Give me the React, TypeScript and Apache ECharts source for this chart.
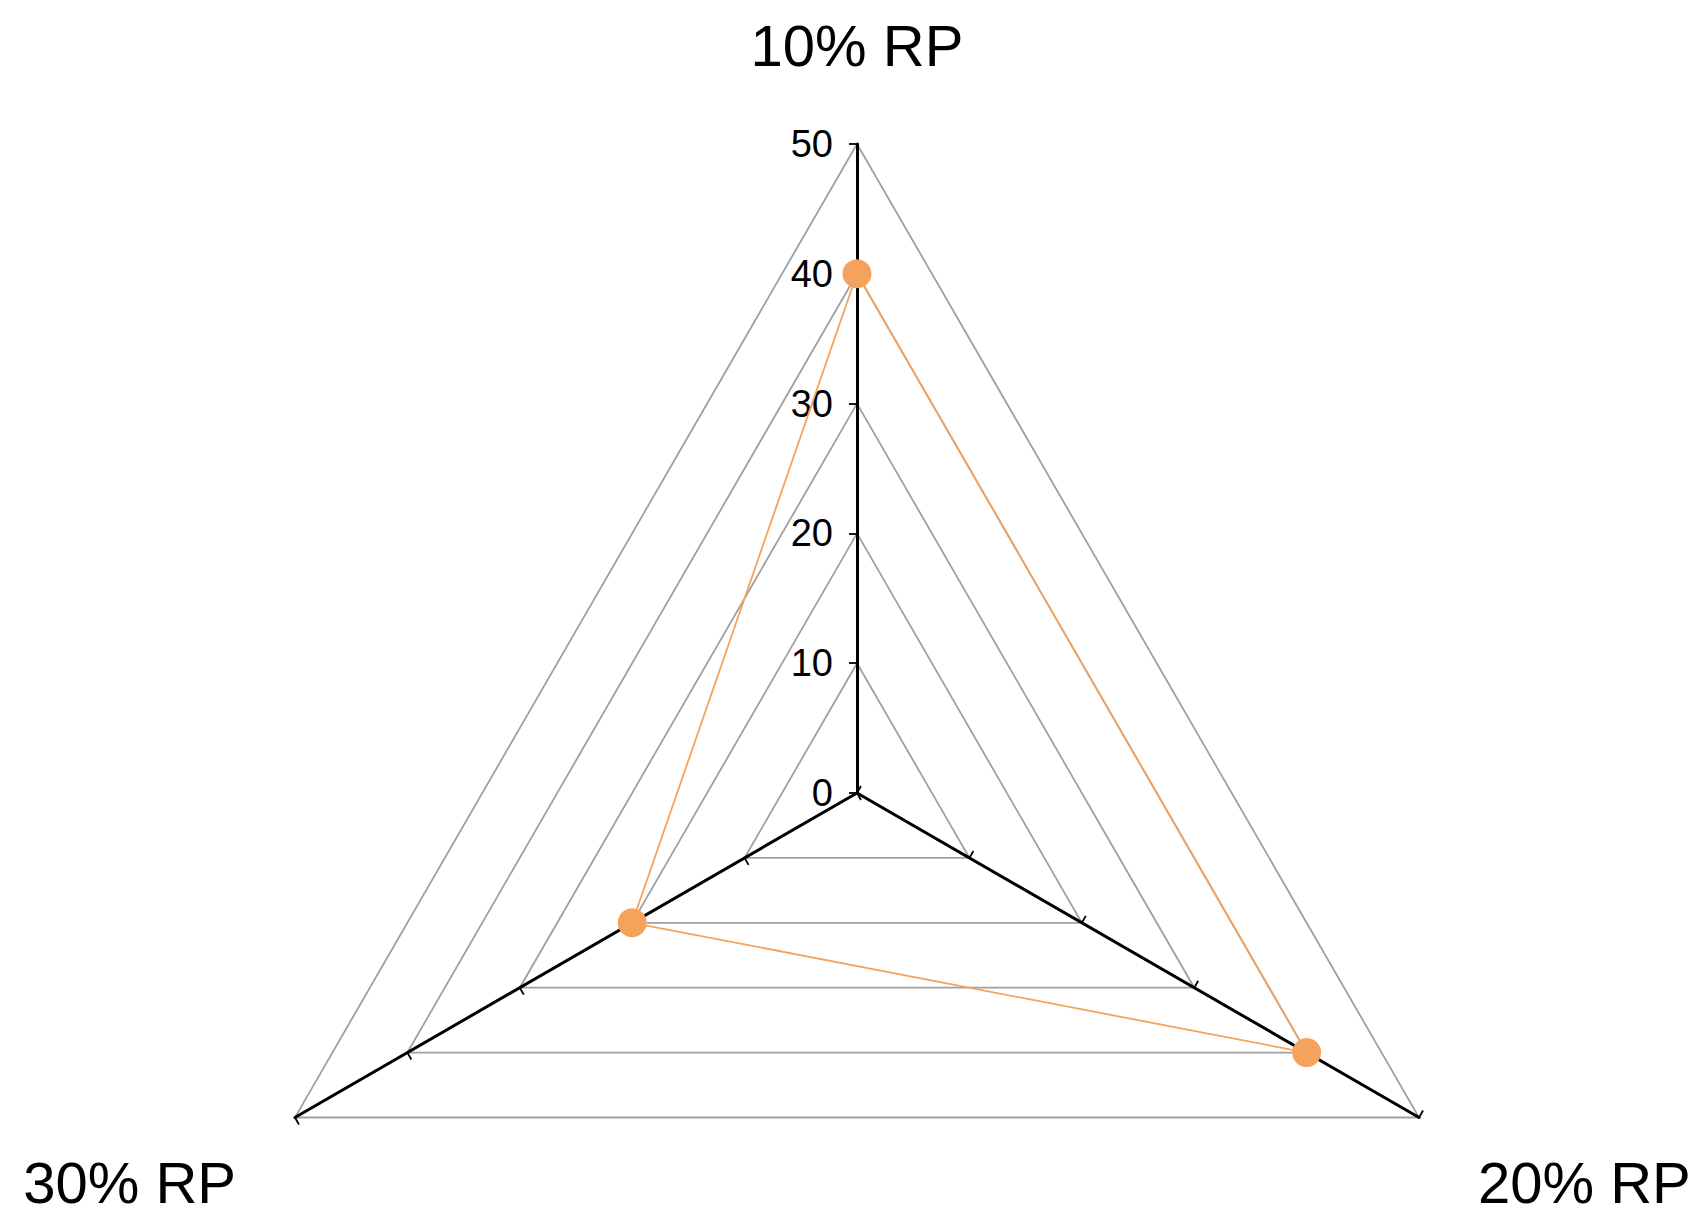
import React, { useEffect, useRef } from "react";
import * as echarts from "echarts";

const categories = ["10% RP", "20% RP", "30% RP"];
const values = [40, 40, 20];
const axisMax = 50;
const splitCount = 5;

// ECharts lays indicators out counter-clockwise; the reference goes clockwise.
const order = [0, 2, 1];

export default function App() {
  const ref = useRef<HTMLDivElement>(null);
  useEffect(() => {
    if (!ref.current) return;
    const chart = echarts.init(ref.current, null, { renderer: "svg" });
    const font = "'Liberation Sans', Arial, sans-serif";
    chart.setOption({
      animation: false,
      backgroundColor: "#ffffff",
      radar: {
        center: [857, 793],
        radius: 649,
        startAngle: 90,
        shape: "polygon",
        splitNumber: splitCount,
        nameGap: 68,
        axisName: {
          color: "#000000",
          fontSize: 58,
          lineHeight: 62,
          fontFamily: font,
          formatter: (name: string) => "\n" + name,
        },
        indicator: order.map((i, k) => ({
          name: categories[i],
          min: 0,
          max: axisMax,
          axisLabel: { show: k === 0 },
        })),
        axisLine: { lineStyle: { color: "#000000", width: 3 } },
        axisTick: { show: true, length: 8, lineStyle: { color: "#000000", width: 1.8 } },
        axisLabel: {
          show: false,
          color: "#000000",
          fontSize: 38,
          fontFamily: font,
          margin: 24,
        },
        splitLine: { lineStyle: { color: "#a0a0a0", width: 1.8 } },
        splitArea: { show: false },
      },
      series: [
        {
          type: "radar",
          symbol: "circle",
          symbolSize: 29,
          lineStyle: { color: "#F5A35C", width: 1.8 },
          itemStyle: { color: "#F5A35C" },
          data: [{ value: order.map((i) => values[i]), name: "RP" }],
        },
      ],
    });
    return () => chart.dispose();
  }, []);
  return (
    <div
      ref={ref}
      style={{ position: "fixed", left: 0, top: 0, width: 1708, height: 1228, background: "#fff" }}
    />
  );
}
